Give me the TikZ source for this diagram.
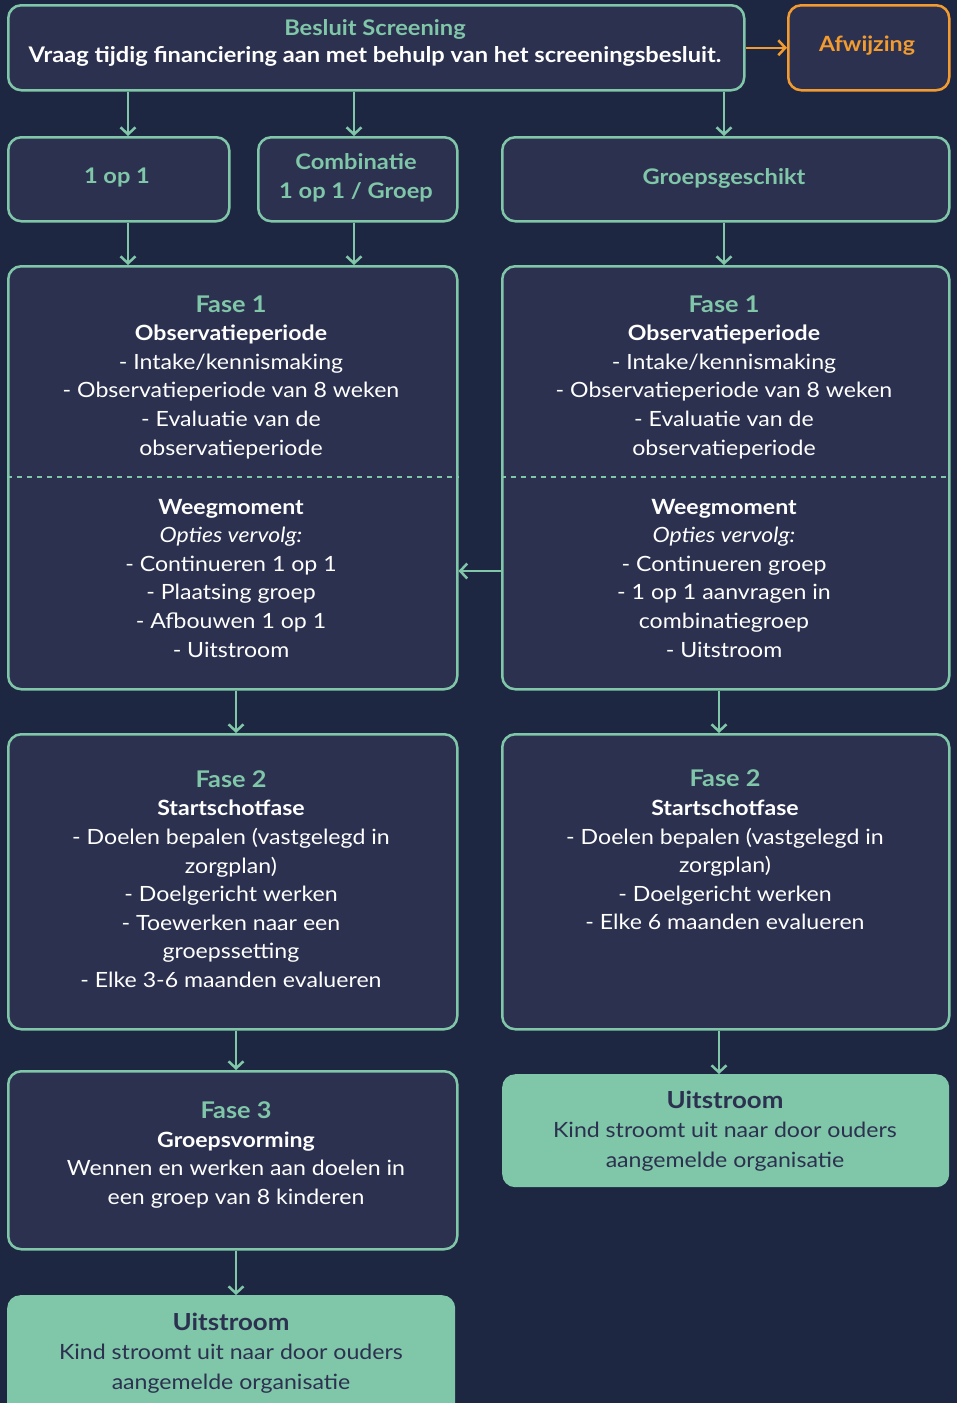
\documentclass[tikz,border=0pt]{standalone}
\usepackage{fontspec}
\setmainfont{Lato}[FakeStretch=1.1]
\usetikzlibrary{arrows.meta}
\definecolor{bg}{HTML}{1E2742}
\definecolor{boxfill}{HTML}{2C3150}
\definecolor{mint}{HTML}{80C6A8}
\definecolor{orng}{HTML}{F29B30}
\begin{document}
\begin{tikzpicture}[x=1pt,y=-1pt,
  box/.style={draw=mint, line width=2.5pt, fill=boxfill, rounded corners=13pt, anchor=north west, inner sep=0pt},
  endbox/.style={fill=mint, rounded corners=13pt, anchor=north west, inner sep=0pt},
  txt/.style={align=center, text=white, font=\fontsize{21}{28.6}\selectfont, inner sep=0pt},
  dtxt/.style={align=center, text=boxfill, font=\fontsize{21}{29.5}\selectfont, inner sep=0pt},
  arr/.style={draw=mint, line width=2.5pt, -{Straight Barb[length=7pt,width=15pt,line width=2.5pt]}},
  oarr/.style={draw=orng, line width=2.5pt, -{Straight Barb[length=7pt,width=15pt,line width=2.5pt]}}]
\fill[bg] (0,0) rectangle (957,1403);
\clip (0,0) rectangle (957,1403);
% boxes
\node[box, minimum width=736pt, minimum height=85pt] (top) at (7,4) {};
\node[box, draw=orng, minimum width=161pt, minimum height=85pt] (afw) at (787,4) {};
\node[box, minimum width=221pt, minimum height=84pt] (one) at (7,136) {};
\node[box, minimum width=199pt, minimum height=84pt] (comb) at (257,136) {};
\node[box, minimum width=447pt, minimum height=84pt] (grp) at (501,136) {};
\node[box, minimum width=449pt, minimum height=423pt] (f1l) at (7,265) {};
\node[box, minimum width=447pt, minimum height=423pt] (f1r) at (501,265) {};
\node[box, minimum width=449pt, minimum height=295pt] (f2l) at (7,733) {};
\node[box, minimum width=447pt, minimum height=295pt] (f2r) at (501,733) {};
\node[box, minimum width=449pt, minimum height=178pt] (f3l) at (7,1070) {};
\node[endbox, minimum width=447pt, minimum height=113pt] (ur) at (502,1074) {};
\node[endbox, minimum width=448pt, minimum height=130pt] (ul) at (7,1295) {};
% dashed separators
\draw[mint, line width=1.3pt, dash pattern=on 5pt off 5pt] (f1l.west |- 0,477) -- (f1l.east |- 0,477);
\draw[mint, line width=1.3pt, dash pattern=on 5pt off 5pt] (f1r.west |- 0,477) -- (f1r.east |- 0,477);
% texts
\node[txt, font=\fontsize{21.5}{28}\selectfont] (ttop) at (375,43) {\textcolor{mint}{\textbf{Besluit Screening}}\\[-1pt]\textbf{Vraag tijdig financiering aan met behulp van het screeningsbesluit.}};
\node[txt, text=orng, font=\fontsize{21}{28}\selectfont\bfseries] (tafw) at (867,46) {Afwijzing};
\node[txt, text=mint, font=\fontsize{21.5}{28}\selectfont\bfseries] (tone) at (117,178) {1 op 1};
\node[txt, text=mint, font=\fontsize{21.5}{28.6}\selectfont\bfseries] (tcomb) at (356,178) {Combinatie\\1 op 1 / Groep};
\node[txt, text=mint, font=\fontsize{21.5}{28}\selectfont\bfseries] (tgrp) at (724,178) {Groepsgeschikt};
% Fase 1 left
\node[txt] (tf1la) at (231,377) {\textcolor{mint}{\fontsize{23}{28.6}\selectfont\textbf{Fase 1}}\\\textbf{Observatieperiode}\\- Intake/kennismaking\\- Observatieperiode van 8 weken\\- Evaluatie van de\\observatieperiode};
\node[txt] (tf1lb) at (231,578) {\textbf{Weegmoment}\\\textit{Opties vervolg:}\\- Continueren 1 op 1\\- Plaatsing groep\\- Afbouwen 1 op 1\\- Uitstroom};
% Fase 1 right
\node[txt] (tf1ra) at (724,377) {\textcolor{mint}{\fontsize{23}{28.6}\selectfont\textbf{Fase 1}}\\\textbf{Observatieperiode}\\- Intake/kennismaking\\- Observatieperiode van 8 weken\\- Evaluatie van de\\observatieperiode};
\node[txt] (tf1rb) at (724,578) {\textbf{Weegmoment}\\\textit{Opties vervolg:}\\- Continueren groep\\- 1 op 1 aanvragen in\\combinatiegroep\\- Uitstroom};
% Fase 2
\node[txt] (tf2l) at (231,879) {\textcolor{mint}{\fontsize{23}{28.6}\selectfont\textbf{Fase 2}}\\\textbf{Startschotfase}\\- Doelen bepalen (vastgelegd in\\zorgplan)\\- Doelgericht werken\\- Toewerken naar een\\groepssetting\\- Elke 3-6 maanden evalueren};
\node[txt] (tf2r) at (725,850) {\textcolor{mint}{\fontsize{23}{28.6}\selectfont\textbf{Fase 2}}\\\textbf{Startschotfase}\\- Doelen bepalen (vastgelegd in\\zorgplan)\\- Doelgericht werken\\- Elke 6 maanden evalueren};
% Fase 3
\node[txt] (tf3) at (236,1155) {\textcolor{mint}{\fontsize{23}{28.6}\selectfont\textbf{Fase 3}}\\\textbf{Groepsvorming}\\Wennen en werken aan doelen in\\een groep van 8 kinderen};
% Uitstroom
\node[dtxt] (tur) at (725,1131) {{\fontsize{23.5}{29.5}\selectfont\textbf{Uitstroom}}\\Kind stroomt uit naar door ouders\\aangemelde organisatie};
\node[dtxt] (tul) at (231,1353) {{\fontsize{23.5}{29.5}\selectfont\textbf{Uitstroom}}\\Kind stroomt uit naar door ouders\\aangemelde organisatie};
% connectors
\coordinate (xa) at (128,0);
\coordinate (xb) at (354,0);
\coordinate (xc) at (724,0);
\coordinate (xd) at (236,0);
\coordinate (xe) at (719,0);
\coordinate (ya) at (0,571);
\draw[oarr] (top.east) -- (afw.west);
\draw[arr] (top.south -| xa) -- (one.north -| xa);
\draw[arr] (top.south -| xb) -- (comb.north -| xb);
\draw[arr] (top.south -| xc) -- (grp.north -| xc);
\draw[arr] (one.south -| xa) -- (f1l.north -| xa);
\draw[arr] (comb.south -| xb) -- (f1l.north -| xb);
\draw[arr] (grp.south -| xc) -- (f1r.north -| xc);
\draw[arr] (f1r.west |- ya) -- (f1l.east |- ya);
\draw[arr] (f1l.south -| xd) -- (f2l.north -| xd);
\draw[arr] (f1r.south -| xe) -- (f2r.north -| xe);
\draw[arr] (f2l.south -| xd) -- (f3l.north -| xd);
\draw[arr] (f2r.south -| xe) -- (ur.north -| xe);
\draw[arr] (f3l.south -| xd) -- (ul.north -| xd);
\end{tikzpicture}
\end{document}
